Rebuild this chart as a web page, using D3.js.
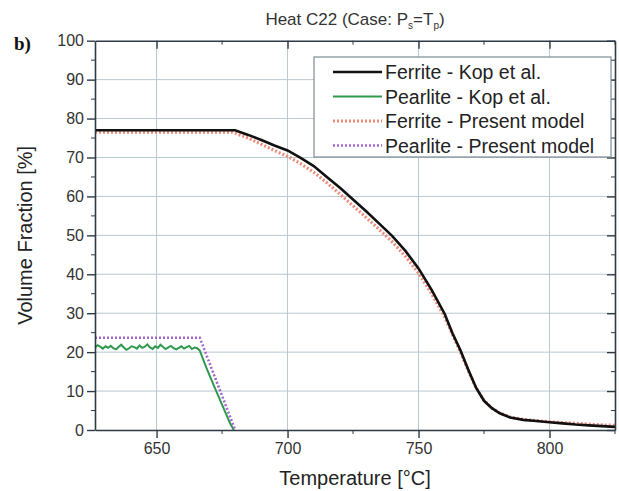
<!DOCTYPE html>
<html lang="en">
  <head>
    <meta charset="utf-8" />
    <title>Heat C22 – Volume Fraction</title>
    <script src="https://d3js.org/d3.v7.min.js"></script>
    <style>
      body { margin: 0; background: #fff; }
      svg { display: block; font-family: "Liberation Sans", Arial, sans-serif; }
      .grid line { stroke: #b8c8d1; stroke-width: 1; }
      .axis path, .axis line { stroke: #2e3b45; }
      .axis text { fill: #333; font-size: 16px; }
    </style>
  </head>
  <body>
    <div id="chart"></div>
    <script>
      /* ----------------------------- DATA ----------------------------- */
      const xTicks = [650, 700, 750, 800];
      const yTicks = [0, 10, 20, 30, 40, 50, 60, 70, 80, 90, 100];

      // Ferrite - Kop et al. (black)
      const ferriteKopT = [626.5, 680, 685, 690, 695, 700, 705, 710, 715, 720, 725, 730, 735, 740, 745, 750, 755, 760, 763, 766, 769, 772, 775, 778, 781, 785, 790, 795, 800, 805, 810, 815, 820, 825];
      const ferriteKopV = [77, 77, 75.8, 74.5, 73.1, 71.8, 69.9, 67.8, 65, 62.2, 59.2, 56.2, 53, 49.8, 46, 41.5, 36, 29.8, 24.8, 20.5, 15.5, 10.8, 7.5, 5.6, 4.3, 3.2, 2.6, 2.3, 2, 1.7, 1.4, 1.2, 1.0, 0.8];

      // Ferrite - Present model (red dotted)
      const ferriteModT = [626.5, 679, 685, 690, 695, 700, 705, 710, 715, 720, 725, 730, 735, 740, 745, 750, 755, 760, 763, 766, 769, 772, 775, 778, 781, 785, 790, 795, 800, 805, 810, 815, 820, 825];
      const ferriteModV = [76.5, 76.5, 75, 73.4, 71.8, 70.3, 68.4, 66.2, 63.5, 60.6, 57.6, 54.6, 51.5, 48.3, 44.6, 40.3, 35, 29, 24.5, 20, 15.2, 10.8, 7.6, 5.6, 4.4, 3.3, 2.7, 2.4, 2.1, 1.9, 1.7, 1.5, 1.3, 1.2];

      // Pearlite - Kop et al. (green, noisy plateau)
      const pearliteKopT = [626.5, 627.5, 628.5, 629.5, 630.5, 631.5, 632.5, 633.5, 634.5, 635.5, 636.5, 637.5, 638.5, 639.5, 640.5, 641.5, 642.5, 643.5, 644.5, 645.5, 646.5, 647.5, 648.5, 649.5, 650.5, 651.5, 652.5, 653.5, 654.5, 655.5, 656.5, 657.5, 658.5, 659.5, 660.5, 661.5, 662.5, 663.5, 664.5, 665.5, 666.5, 669, 672, 675, 678, 679.5];
      const pearliteKopV = [21.2, 21.8, 21.4, 20.9, 21.5, 21.1, 21.6, 21.0, 20.7, 21.3, 21.9, 21.2, 20.6, 21.0, 21.5, 21.3, 20.9, 21.7, 21.1, 21.4, 22.0, 21.2, 20.8, 21.5, 21.1, 21.9, 21.3, 20.8, 21.2, 21.6, 21.0, 20.7, 21.1, 21.5, 20.9, 21.3, 21.6, 20.8, 21.2, 21.0, 20.4, 16.0, 11.2, 6.5, 1.8, 0];

      // Pearlite - Present model (purple dotted)
      const pearliteModT = [626.5, 666.5, 680];
      const pearliteModV = [23.7, 23.7, 0];

      const seriesNames = ["Ferrite - Kop et al.", "Pearlite - Kop et al.", "Ferrite - Present model", "Pearlite - Present model"];

      /* ---------------------------- LAYOUT ---------------------------- */
      const W = 619, H = 491;
      const m = { t: 40.7, r: 4, b: 61, l: 95 };
      const w = W - m.l - m.r, h = H - m.t - m.b;

      const svg = d3.select("#chart").append("svg").attr("width", W).attr("height", H);
      const g = svg.append("g").attr("transform", `translate(${m.l},${m.t})`);

      const x = d3.scaleLinear().domain([626.5, 825]).range([0, w]);
      const y = d3.scaleLinear().domain([0, 100]).range([h, 0]);

      /* ----------------------------- GRID ----------------------------- */
      const grid = g.append("g").attr("class", "grid");
      grid.selectAll("line.gx").data(xTicks).join("line")
        .attr("x1", (d) => x(d)).attr("x2", (d) => x(d)).attr("y1", 0).attr("y2", h);
      grid.selectAll("line.gy").data(yTicks.slice(1, -1)).join("line")
        .attr("class", "gy")
        .attr("x1", 0).attr("x2", w).attr("y1", (d) => y(d)).attr("y2", (d) => y(d));

      /* ----------------------------- SERIES ---------------------------- */
      const zip = (ts, vs) => ts.map((t, i) => ({ t, v: vs[i] }));
      const line = d3.line().x((d) => x(d.t)).y((d) => y(d.v));

      const styles = [
        { data: zip(ferriteModT, ferriteModV), stroke: "#f08a7a", width: 3.2, dash: "2,2" },
        { data: zip(ferriteKopT, ferriteKopV), stroke: "#111", width: 2.6, dash: null },
        { data: zip(pearliteKopT, pearliteKopV), stroke: "#2f9a4e", width: 2, dash: null },
        { data: zip(pearliteModT, pearliteModV), stroke: "#a266d0", width: 2.6, dash: "2,2" },
      ];

      g.selectAll("path.series").data(styles).join("path")
        .attr("class", "series")
        .attr("fill", "none")
        .attr("stroke", (d) => d.stroke)
        .attr("stroke-width", (d) => d.width)
        .attr("stroke-dasharray", (d) => d.dash)
        .attr("d", (d) => line(d.data));

      /* ------------------------------ AXES ----------------------------- */
      const minorX = [675, 725, 775, 825];
      const minorY = d3.range(5, 100, 10);

      g.append("g").attr("class", "axis").attr("transform", `translate(0,${h})`)
        .call(d3.axisBottom(x).tickValues(xTicks).tickSize(8).tickSizeOuter(0).tickPadding(5));
      g.append("g").attr("class", "axis")
        .call(d3.axisLeft(y).tickValues(yTicks).tickSize(8).tickSizeOuter(0).tickPadding(3));
      g.append("g").attr("class", "axis").call(d3.axisTop(x).tickValues(xTicks).tickSize(-8).tickSizeOuter(0).tickFormat(""));
      g.append("g").attr("class", "axis").attr("transform", `translate(${w},0)`)
        .call(d3.axisRight(y).tickValues(yTicks).tickSize(-8).tickSizeOuter(0).tickFormat(""));

      // minor ticks
      const minor = g.append("g").attr("stroke", "#2e3b45");
      minor.selectAll("line.mxb").data(minorX).join("line")
        .attr("x1", (d) => x(d)).attr("x2", (d) => x(d)).attr("y1", h).attr("y2", h + 4);
      minor.selectAll("line.mxt").data(minorX).join("line").attr("class", "mxt")
        .attr("x1", (d) => x(d)).attr("x2", (d) => x(d)).attr("y1", 0).attr("y2", 4);
      minor.selectAll("line.myl").data(minorY).join("line").attr("class", "myl")
        .attr("x1", -4).attr("x2", 0).attr("y1", (d) => y(d)).attr("y2", (d) => y(d));
      minor.selectAll("line.myr").data(minorY).join("line").attr("class", "myr")
        .attr("x1", w - 4).attr("x2", w).attr("y1", (d) => y(d)).attr("y2", (d) => y(d));

      g.selectAll(".axis path").attr("stroke-width", 1.6);
      g.selectAll(".axis .tick line").attr("stroke-width", 1.4);

      /* ----------------------------- LEGEND ---------------------------- */
      const legend = svg.append("g").attr("transform", "translate(314,57)");
      legend.append("rect").attr("width", 297).attr("height", 100)
        .attr("fill", "#fff").attr("stroke", "#7d8d95").attr("stroke-width", 1.2);
      const legendStyle = [styles[1], styles[2], styles[0], styles[3]];
      const row = legend.selectAll("g.row").data(seriesNames).join("g")
        .attr("class", "row")
        .attr("transform", (_, i) => `translate(0,${15 + i * 24.5})`);
      row.append("line").attr("x1", 19).attr("x2", 68).attr("y1", 0).attr("y2", 0)
        .attr("stroke", (_, i) => legendStyle[i].stroke)
        .attr("stroke-width", (_, i) => legendStyle[i].width)
        .attr("stroke-dasharray", (_, i) => legendStyle[i].dash);
      row.append("text").attr("x", 71).attr("y", 7).attr("font-size", 19.5).attr("fill", "#222")
        .text((d) => d);

      /* ------------------------- TITLES & LABELS ------------------------ */
      const title = svg.append("text").attr("x", m.l + w / 2).attr("y", 25)
        .attr("text-anchor", "middle").attr("font-size", 17).attr("fill", "#333");
      title.append("tspan").text("Heat C22 (Case: P");
      title.append("tspan").attr("font-size", 10).attr("dy", 4).text("s");
      title.append("tspan").attr("dy", -4).text("=T");
      title.append("tspan").attr("font-size", 10).attr("dy", 4).text("p");
      title.append("tspan").attr("dy", -4).text(")");

      svg.append("text").attr("x", 14).attr("y", 50)
        .attr("font-family", "'Liberation Serif', 'DejaVu Serif', serif")
        .attr("font-weight", "bold").attr("font-size", 19).attr("fill", "#111").text("b)");

      svg.append("text").attr("x", m.l + w / 2).attr("y", 485)
        .attr("text-anchor", "middle").attr("font-size", 20).attr("fill", "#222")
        .text("Temperature [°C]");

      svg.append("text").attr("transform", `translate(32,${m.t + h / 2}) rotate(-90)`)
        .attr("text-anchor", "middle").attr("font-size", 20).attr("fill", "#222")
        .text("Volume Fraction [%]");
    </script>
  </body>
</html>
